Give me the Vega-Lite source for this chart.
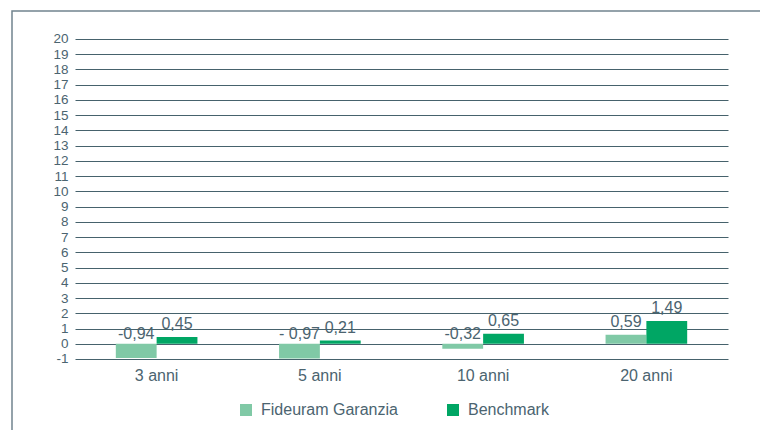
{
  "$schema": "https://vega.github.io/schema/vega-lite/v6.json",
  "width": 760,
  "height": 430,
  "autosize": {"type": "none"},
  "padding": {"left": 12, "top": 11, "right": 0, "bottom": 0},
  "background": "white",
  "config": {
    "view": {"stroke": "#72848e", "strokeWidth": 1.5},
    "font": "Liberation Sans",
    "text": {"font": "Liberation Sans"}
  },
  "data": {
    "values": [
      {"period": "3 anni", "series": "Fideuram Garanzia", "value": -0.94, "label": "-0,94"},
      {"period": "3 anni", "series": "Benchmark", "value": 0.45, "label": "0,45"},
      {"period": "5 anni", "series": "Fideuram Garanzia", "value": -0.97, "label": "- 0,97"},
      {"period": "5 anni", "series": "Benchmark", "value": 0.21, "label": "0,21"},
      {"period": "10 anni", "series": "Fideuram Garanzia", "value": -0.32, "label": "-0,32"},
      {"period": "10 anni", "series": "Benchmark", "value": 0.65, "label": "0,65"},
      {"period": "20 anni", "series": "Fideuram Garanzia", "value": 0.59, "label": "0,59"},
      {"period": "20 anni", "series": "Benchmark", "value": 1.49, "label": "1,49"}
    ]
  },
  "encoding": {
    "x": {
      "field": "period",
      "type": "nominal",
      "sort": ["3 anni", "5 anni", "10 anni", "20 anni"],
      "scale": {"range": [63, 716], "paddingInner": 0.5, "paddingOuter": 0.25},
      "axis": {
        "title": null,
        "orient": "bottom",
        "offset": -82,
        "domain": false,
        "ticks": false,
        "grid": false,
        "labelAngle": 0,
        "labelFontSize": 16,
        "labelColor": "#4b6470",
        "labelPadding": 8
      }
    },
    "xOffset": {
      "field": "series",
      "type": "nominal",
      "sort": ["Fideuram Garanzia", "Benchmark"],
      "scale": {"paddingInner": 0, "paddingOuter": 0}
    },
    "y": {
      "field": "value",
      "type": "quantitative",
      "scale": {"domain": [-6.3815, 21.8375], "nice": false, "zero": false},
      "axis": {
        "title": null,
        "orient": "left",
        "offset": -63,
        "values": [-1, 0, 1, 2, 3, 4, 5, 6, 7, 8, 9, 10, 11, 12, 13, 14, 15, 16, 17, 18, 19, 20],
        "labelExpr": "'' + datum.value",
        "labelOverlap": false,
        "domain": false,
        "ticks": false,
        "grid": true,
        "gridColor": "#46626c",
        "gridWidth": 1,
        "gridOpacity": 1,
        "labelFontSize": 13.5,
        "labelColor": "#4b6470",
        "labelPadding": 7
      }
    }
  },
  "layer": [
    {
      "mark": {"type": "bar"},
      "encoding": {
        "y2": {"datum": 0},
        "color": {
          "field": "series",
          "type": "nominal",
          "sort": ["Fideuram Garanzia", "Benchmark"],
          "scale": {"domain": ["Fideuram Garanzia", "Benchmark"], "range": ["#80c9a6", "#00a664"]},
          "legend": {
            "title": null,
            "orient": "none",
            "legendX": 226,
            "legendY": 391,
            "direction": "horizontal",
            "symbolType": "square",
            "symbolSize": 144,
            "symbolStrokeWidth": 0,
            "labelFontSize": 16,
            "labelColor": "#4b6470",
            "labelOffset": 7,
            "columnPadding": 47,
            "padding": 0
          }
        }
      }
    },
    {
      "transform": [{"filter": "datum.value >= 0"}],
      "mark": {"type": "text", "baseline": "bottom", "dy": -5, "fontSize": 16, "color": "#4b6470"},
      "encoding": {"text": {"field": "label"}}
    },
    {
      "transform": [{"filter": "datum.value < 0"}],
      "mark": {"type": "text", "baseline": "bottom", "dy": -2, "fontSize": 16, "color": "#4b6470"},
      "encoding": {"y": {"datum": 0}, "text": {"field": "label"}}
    }
  ]
}
